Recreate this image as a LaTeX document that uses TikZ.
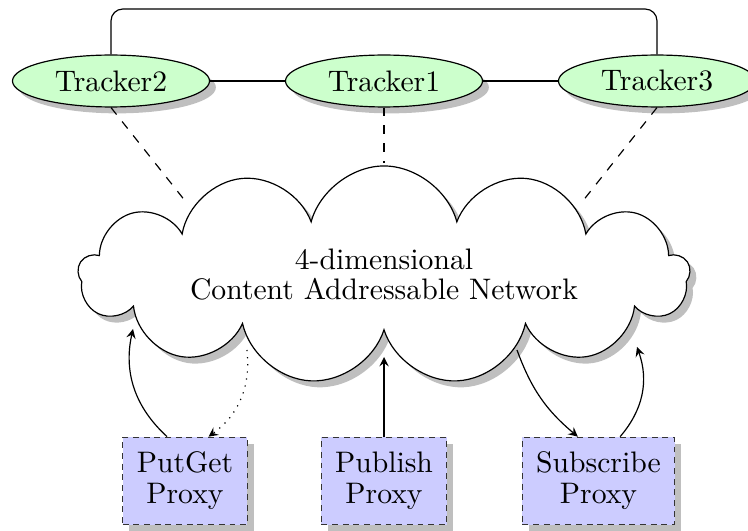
\documentclass[tikz,border=0pt]{standalone}
\usetikzlibrary{shapes.geometric,shapes.symbols,shadows,arrows}
\begin{document}
\begin{tikzpicture}[x=0.337pt,y=-0.337pt,
  font=\fontsize{10}{10.4}\selectfont,
  tracker/.style={ellipse, draw, fill=green!20, drop shadow,
    minimum width=66.4pt, minimum height=17.5pt, inner sep=1pt},
  proxy/.style={rectangle, draw=black!80, dash pattern=on 2pt off 1.6pt,
    fill=blue!20, drop shadow, align=center, minimum width=42pt,
    minimum height=29.5pt, inner xsep=4.6pt},
  net/.style={cloud, cloud puffs=13, cloud ignores aspect, draw, fill=white,
    drop shadow, minimum width=206pt, minimum height=73.5pt, align=center,
    font=\fontsize{10}{10.1}\selectfont},
  arr/.style={-stealth}
]
\useasboundingbox (0,0) rectangle (748,531);
% trackers
\node[tracker] (t2) at (111,81) {Tracker2};
\node[tracker] (t1) at (384,81) {Tracker1};
\node[tracker] (t3) at (657,81) {Tracker3};
\coordinate (topbar) at (384,9);
\draw[rounded corners=4pt] (t2.north) |- (topbar) -| (t3.north);
\draw (t2) -- (t1);
\draw (t1) -- (t3);
% cloud
\node[net] (cloud) at (384,275) {4-dimensional\\Content Addressable Network};
\coordinate (cnw) at (186,202);
\coordinate (cn) at (384,163);
\coordinate (cne) at (582,202);
\draw[dashed] (t2.south) -- (cnw);
\draw[dashed] (t1.south) -- (cn);
\draw[dashed] (t3.south) -- (cne);
% proxies
\node[proxy] (pg) at (185,481) {PutGet\\Proxy};
\node[proxy] (pub) at (384,481) {Publish\\Proxy};
\node[proxy] (sub) at (598.5,481) {Subscribe\\Proxy};
% cloud attachment points
\coordinate (c1) at (133,329);
\coordinate (c2) at (247,350);
\coordinate (c3) at (384,357);
\coordinate (c4) at (517,350);
\coordinate (c5) at (637,347);
\draw[arr] (pg.112) to[bend left=30] (c1);
\draw[arr, dotted] (c2) to[bend left=30] (pg.62);
\draw[arr] (pub.north) -- (c3);
\draw[arr] (c4) to[bend right=15] (sub.115);
\draw[arr] (sub.64) to[bend right=30] (c5);
\end{tikzpicture}
\end{document}
